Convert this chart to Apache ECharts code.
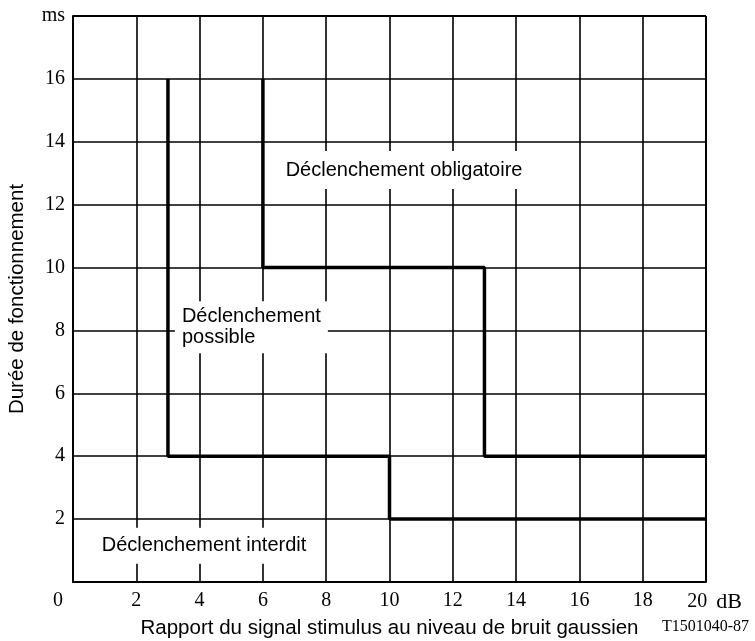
<!DOCTYPE html>
<html>
<head>
<meta charset="utf-8">
<script src="https://cdn.jsdelivr.net/npm/echarts@6/dist/echarts.min.js"></script>
<style>
  html, body { margin: 0; padding: 0; background: #fff; }
  #chart { width: 755px; height: 641px; }
</style>
</head>
<body>
<div id="chart"></div>
<script>
// boundary between "interdit" and "possible"
const lowerX = [3, 3, 10, 10, 20]
const lowerY = [16, 4, 4, 2, 2]
// boundary between "possible" and "obligatoire"
const upperX = [6, 6, 13, 13, 20]
const upperY = [16, 10, 10, 4, 4]

const zoneNames = ['Déclenchement obligatoire', 'Déclenchement\npossible', 'Déclenchement interdit']
const zoneX = [10.46, 3.22, 4.14]
const zoneY = [13.1, 8.1, 1.15]

const serif = '"Liberation Serif", "DejaVu Serif", serif'
const sans = '"Liberation Sans", Arial, sans-serif'

const chart = echarts.init(document.getElementById('chart'))

const zip = (xs, ys) => xs.map((x, i) => [x, ys[i]])

const labelStyle = [
  { align: 'center', padding: [9, 16] },
  { align: 'left', padding: [5, 7], lineHeight: 21 },
  { align: 'center', padding: [8, 9] }
]

chart.setOption({
  animation: false,
  grid: { left: 73, top: 16, right: 49, bottom: 59, outerBoundsMode: 'none' },
  xAxis: {
    type: 'value',
    min: 0,
    max: 20,
    interval: 2,
    name: 'Rapport du signal stimulus au niveau de bruit gaussien',
    nameLocation: 'middle',
    nameGap: 35,
    nameTextStyle: { fontFamily: sans, fontSize: 20.5, color: '#000' },
    axisLine: { lineStyle: { color: '#000', width: 2 } },
    axisTick: { show: false },
    splitLine: { lineStyle: { color: '#000', width: 1.6 } },
    axisLabel: {
      color: '#000',
      fontFamily: serif,
      fontSize: 20,
      margin: 9,
      formatter: v => {
        if (v === 0) return '{z|0}'
        if (v === 20) return '{s| }20{u|dB}'
        return String(v)
      },
      rich: {
        z: { fontFamily: serif, fontSize: 20, color: '#000', padding: [0, 30, 0, 0] },
        s: { width: 17, fontSize: 20 },
        u: { fontFamily: serif, fontSize: 22, color: '#000', padding: [0, 0, 0, 9] }
      }
    }
  },
  yAxis: {
    type: 'value',
    min: 0,
    max: 18,
    interval: 2,
    name: 'Durée de fonctionnement',
    nameLocation: 'middle',
    nameGap: 45,
    nameTextStyle: { fontFamily: sans, fontSize: 20.5, color: '#000' },
    axisLine: { show: true, lineStyle: { color: '#000', width: 2 } },
    axisTick: { show: false },
    splitLine: { lineStyle: { color: '#000', width: 1.6 } },
    axisLabel: {
      color: '#000',
      fontFamily: serif,
      fontSize: 20,
      margin: 8,
      formatter: v => (v === 0 ? '' : v === 18 ? 'ms' : String(v))
    }
  },
  graphic: [
    {
      type: 'text',
      right: 6,
      top: 619,
      style: { text: 'T1501040-87', font: '16px ' + serif, fill: '#000' }
    },
    {
      type: 'rect',
      shape: { x: 706, y: 16, width: 0, height: 566 },
      style: { stroke: '#000', lineWidth: 2 }
    },
    {
      type: 'rect',
      shape: { x: 73, y: 16, width: 633, height: 0 },
      style: { stroke: '#000', lineWidth: 2 }
    }
  ],
  series: [
    {
      type: 'scatter',
      symbolSize: 0,
      z: 1,
      itemStyle: { opacity: 1 },
      data: zoneNames.map((n, i) => ({
        name: n,
        value: [zoneX[i], zoneY[i]],
        label: Object.assign({
          show: true,
          position: 'inside',
          verticalAlign: 'middle',
          formatter: '{b}',
          color: '#000',
          opacity: 1,
          fontFamily: sans,
          fontSize: 20,
          backgroundColor: '#fff'
        }, labelStyle[i])
      }))
    },
    {
      type: 'line',
      data: zip(lowerX, lowerY),
      symbol: 'none',
      z: 3,
      lineStyle: { color: '#000', width: 3.5 }
    },
    {
      type: 'line',
      data: zip(upperX, upperY),
      symbol: 'none',
      z: 3,
      lineStyle: { color: '#000', width: 3.5 }
    }
  ]
})
</script>
</body>
</html>
